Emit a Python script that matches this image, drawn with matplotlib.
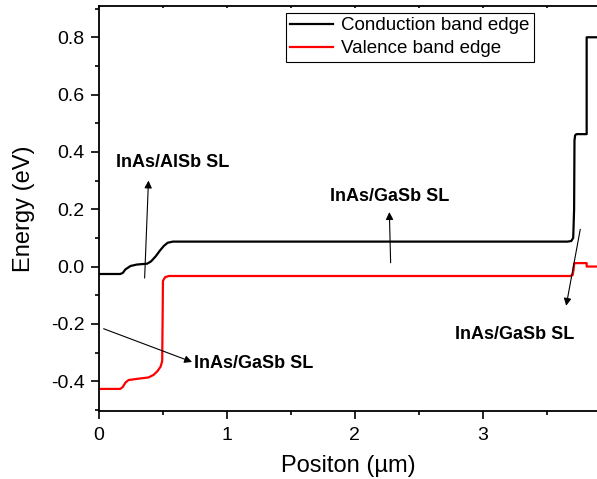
import matplotlib
matplotlib.use("Agg")
import matplotlib.pyplot as plt
from matplotlib.ticker import MultipleLocator, FormatStrFormatter

plt.rcParams["font.family"] = ["Liberation Sans", "DejaVu Sans"]

# Band edge profiles along the growth direction (position in um, energy in eV)
cb_x = [0.00, 0.17, 0.19, 0.21, 0.25, 0.30, 0.38, 0.41, 0.445, 0.48, 0.51,
        0.54, 0.58, 3.66, 3.69, 3.705, 3.712, 3.715, 3.72, 3.73, 3.81, 3.81, 3.90]
cb_y = [-0.026, -0.026, -0.022, -0.010, 0.002, 0.007, 0.010, 0.018, 0.035, 0.056,
        0.072, 0.083, 0.087, 0.087, 0.089, 0.100, 0.20, 0.44, 0.458, 0.462,
        0.462, 0.80, 0.80]

vb_x = [0.00, 0.17, 0.19, 0.21, 0.235, 0.30, 0.39, 0.43, 0.46, 0.485, 0.497,
        0.500, 0.503, 0.52, 0.55, 3.68, 3.70, 3.708, 3.712, 3.72, 3.81, 3.81, 3.90]
vb_y = [-0.427, -0.427, -0.420, -0.405, -0.396, -0.392, -0.387, -0.378, -0.365,
        -0.349, -0.330, -0.200, -0.050, -0.037, -0.033, -0.033, -0.030, -0.010,
        0.010, 0.012, 0.012, 0.000, 0.000]

# Region labels: text, text position, arrow tail, arrow head
labels = ["InAs/AlSb SL", "InAs/GaSb SL", "InAs/GaSb SL", "InAs/GaSb SL"]
label_pos = [(0.58, 0.362), (2.27, 0.243), (0.745, -0.337), (3.25, -0.238)]
arrow_tail = [(0.36, -0.04), (2.28, 0.013), (0.04, -0.217), (3.76, 0.13)]
arrow_head = [(0.39, 0.30), (2.27, 0.19), (0.73, -0.333), (3.65, -0.137)]
label_align = ["center", "center", "left", "center"]

fig = plt.figure(figsize=(5.97, 4.79), dpi=100)
ax = fig.add_axes([0.165, 0.142, 0.837, 0.846])

ax.plot(cb_x, cb_y, color="black", lw=1.6, label="Conduction band edge")
ax.plot(vb_x, vb_y, color="#ff0000", lw=1.6, label="Valence band edge")

for txt, pos, tail, head, ha in zip(labels, label_pos, arrow_tail, arrow_head, label_align):
    ax.annotate("", xy=head, xytext=tail,
                arrowprops=dict(arrowstyle="-|>", color="black", lw=0.8,
                                mutation_scale=11, shrinkA=0, shrinkB=0))
    ax.text(pos[0], pos[1], txt, ha=ha, va="center", fontsize=13,
            fontweight="bold")

ax.set_xlim(0, 3.90)
ax.set_ylim(-0.504, 0.91)
ax.xaxis.set_major_locator(MultipleLocator(1))
ax.xaxis.set_minor_locator(MultipleLocator(0.5))
ax.yaxis.set_major_locator(MultipleLocator(0.2))
ax.yaxis.set_minor_locator(MultipleLocator(0.1))
ax.yaxis.set_major_formatter(FormatStrFormatter("%.1f"))

ax.tick_params(axis="both", which="major", direction="out", length=5.8,
               width=1.2, labelsize=14)
ax.tick_params(axis="both", which="minor", direction="out", length=3, width=1.2)
ax.tick_params(axis="y", which="major", pad=4.3)
ax.tick_params(axis="x", which="major", pad=6)
ax.xaxis.set_ticks_position("both")
ax.tick_params(axis="x", which="both", top=True)
# short inward ticks along the top frame
for t in ax.xaxis.get_major_ticks() + ax.xaxis.get_minor_ticks():
    t.tick2line.set_marker(3)
    t.tick2line.set_markersize(1.5)

for sp in ["left", "bottom", "top"]:
    ax.spines[sp].set_linewidth(1.3)
ax.spines["right"].set_visible(False)

ax.set_xlabel("Positon (\u00b5m)", fontsize=17, labelpad=8)
ax.set_ylabel("Energy (eV)", fontsize=17, labelpad=11)

leg = ax.legend(loc="upper left", bbox_to_anchor=(0.3745, 0.983), fontsize=13.5,
                frameon=True, fancybox=False, edgecolor="black", framealpha=1,
                handlelength=2.3, handletextpad=0.4, borderpad=0.25,
                labelspacing=0.3, borderaxespad=0)
leg.get_frame().set_linewidth(0.8)

fig.savefig("out.png", dpi=100)
